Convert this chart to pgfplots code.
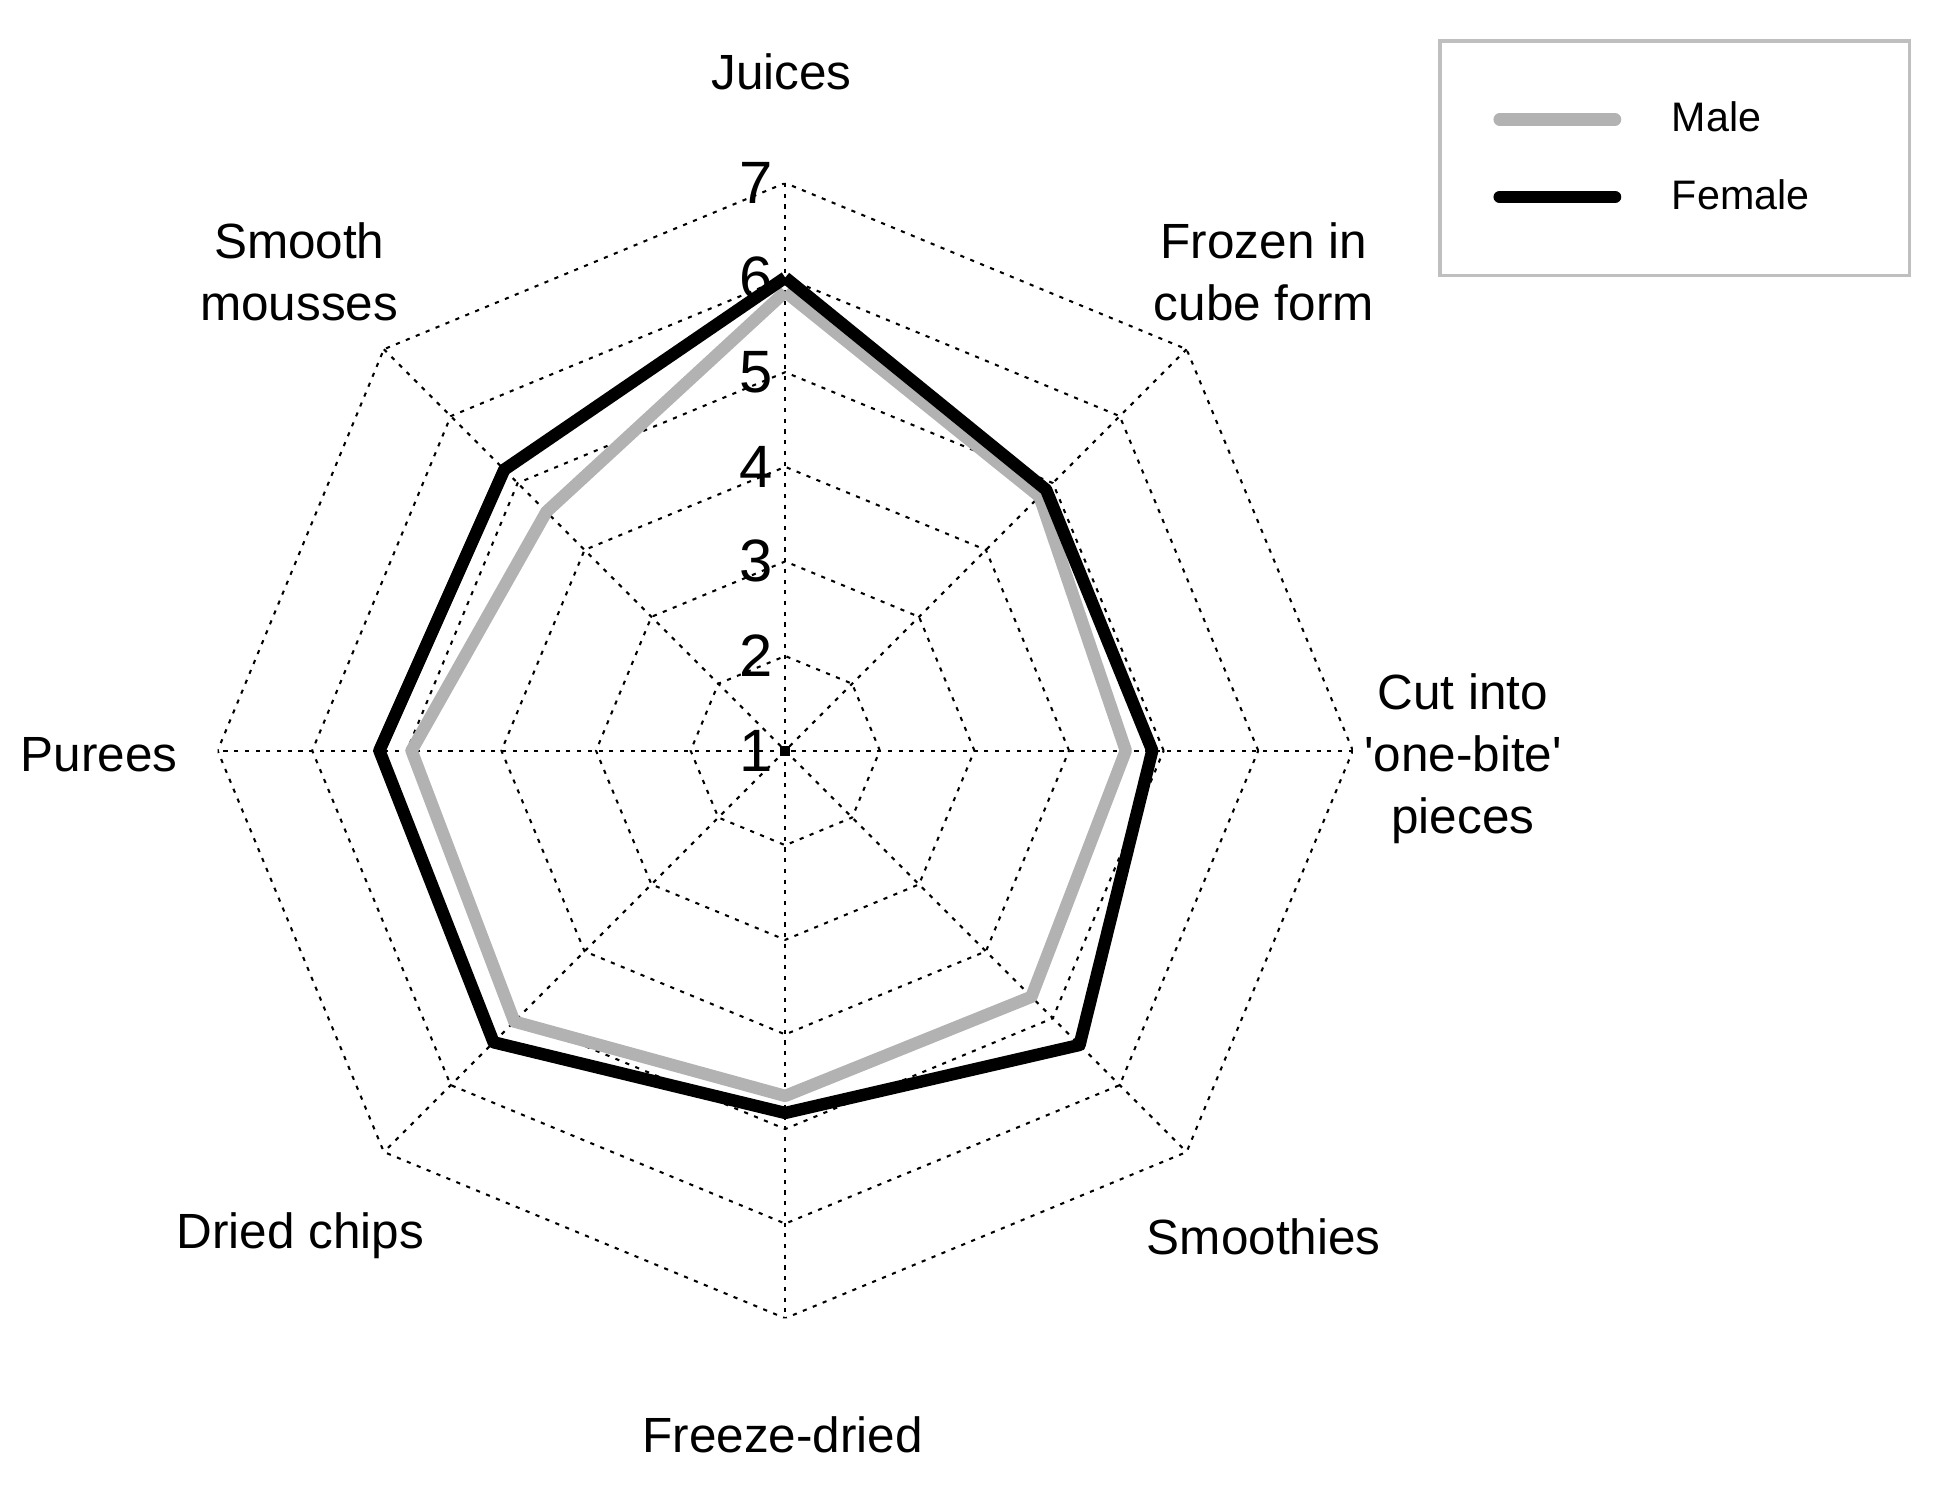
\documentclass[border=0pt]{standalone}
\usepackage{fontspec}
\setmainfont{Liberation Sans}
\usepackage{pgfplots}
\pgfplotsset{compat=1.18}
\usepgfplotslibrary{polar}
\begin{document}
\begin{tikzpicture}
\useasboundingbox (-190.5pt,-178.8pt) rectangle (279.9pt,182.1pt);
\begin{polaraxis}[
  at={(0pt,0pt)}, anchor=center,
  scale only axis, width=275.4pt, height=275.4pt,
  hide axis,
  xmin=0, xmax=360, ymin=0, ymax=6,
  y filter/.expression={y-1},
  grid line/.style={black, line width=0.5pt, dash pattern=on 1pt off 1.6pt},
  legend image code/.code={\draw[#1, line cap=round] (0pt,0pt) -- (28pt,0pt);},
  legend style={at={(axis description cs:1.0752,1.1264)}, anchor=north west,
    draw=black!25, line width=0.8pt, inner xsep=13pt, inner ysep=14pt,
    row sep=8.8pt, column sep=12.3pt, cells={anchor=west},
    nodes={inner sep=0pt, text height=8pt, text depth=2pt, font=\fontsize{10}{12}\selectfont}},
  legend cell align=left,
]
% grid rings (values 2..7)
\addplot[grid line, forget plot] coordinates {(0,2)(45,2)(90,2)(135,2)(180,2)(225,2)(270,2)(315,2)(360,2)};
\addplot[grid line, forget plot] coordinates {(0,3)(45,3)(90,3)(135,3)(180,3)(225,3)(270,3)(315,3)(360,3)};
\addplot[grid line, forget plot] coordinates {(0,4)(45,4)(90,4)(135,4)(180,4)(225,4)(270,4)(315,4)(360,4)};
\addplot[grid line, forget plot] coordinates {(0,5)(45,5)(90,5)(135,5)(180,5)(225,5)(270,5)(315,5)(360,5)};
\addplot[grid line, forget plot] coordinates {(0,6)(45,6)(90,6)(135,6)(180,6)(225,6)(270,6)(315,6)(360,6)};
\addplot[grid line, forget plot] coordinates {(0,7)(45,7)(90,7)(135,7)(180,7)(225,7)(270,7)(315,7)(360,7)};
% spokes
\addplot[grid line, forget plot] coordinates {(0,7)(0,1)(180,7)};
\addplot[grid line, forget plot] coordinates {(45,7)(45,1)(225,7)};
\addplot[grid line, forget plot] coordinates {(90,7)(90,1)(270,7)};
\addplot[grid line, forget plot] coordinates {(135,7)(135,1)(315,7)};
\addplot[only marks, mark=square*, mark size=1pt, black, forget plot] coordinates {(0,1)};
% Male: Juices, Frozen, Cut, Smoothies, Freeze-dried, Dried chips, Purees, Smooth mousses
\addplot[black!30, line width=3pt, line join=round] coordinates {
  (90,5.85) (45,4.80) (0,4.60) (-45,4.68) (-90,4.65) (-135,5.05) (-180,4.95) (-225,4.57) (-270,5.85)};
\addlegendentry[text width=44.7pt]{Male}
% Female
\addplot[black, line width=3pt, line join=round] coordinates {
  (90,6.00) (45,4.90) (0,4.88) (-45,5.40) (-90,4.83) (-135,5.36) (-180,5.29) (-225,5.20) (-270,6.00)};
\addlegendentry[text width=44.7pt]{Female}
\end{polaraxis}
% tick numbers
\begin{scope}[font=\fontsize{14.5}{16}\selectfont]
\foreach \v in {1,...,7} {
  \node[inner sep=0pt] at (-7pt, {(\v-1)*22.95pt}) {\v};
}
\end{scope}
% category labels
\begin{scope}[font=\fontsize{12}{15}\selectfont, align=center, inner sep=0pt]
\node at (-0.9pt,164.7pt) {Juices};
\node at (116.1pt,116.1pt) {Frozen in\\cube form};
\node at (164.4pt,-2pt) {Cut into\\\textquotesingle one-bite\textquotesingle\\pieces};
\node at (116.1pt,-117.9pt) {Smoothies};
\node at (-0.6pt,-165.9pt) {Freeze-dried};
\node at (-117.6pt,-117.6pt) {Dried chips};
\node at (-166.5pt,-0.9pt) {Purees};
\node at (-117.9pt,116.1pt) {Smooth\\mousses};
\end{scope}
\end{tikzpicture}
\end{document}
